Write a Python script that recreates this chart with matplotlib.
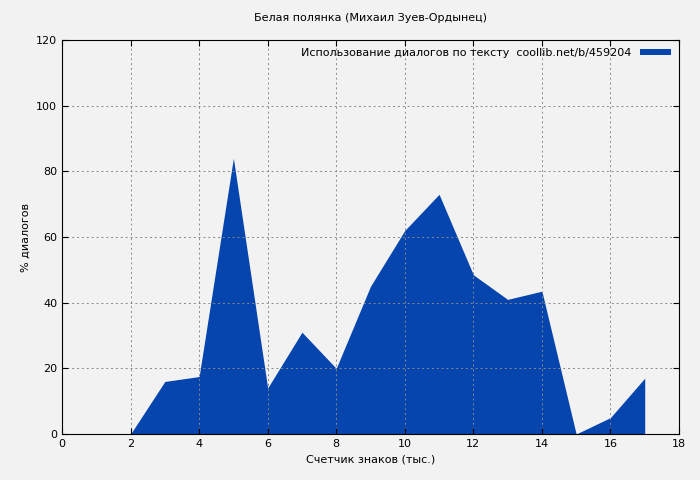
import matplotlib
matplotlib.use("Agg")
import matplotlib.pyplot as plt

x_vals = [2, 3, 4, 5, 6, 7, 8, 9, 10, 11, 12, 13, 14, 15, 16, 17]
y_vals = [0, 16, 17.5, 84, 14, 31, 20, 45, 62, 73, 48.5, 41, 43.5, 0, 5, 17]

plt.rcParams['font.family'] = ['DejaVu Sans']
plt.rcParams['font.size'] = 8

fig = plt.figure(figsize=(7, 4.8), dpi=100, facecolor='#f2f2f2')
ax = fig.add_axes([62/700, 1-434/480, 617/700, 394/480], facecolor='#f2f2f2')

ax.fill_between(x_vals, y_vals, 0, color='#0645ad', linewidth=0,
                label='Использование диалогов по тексту  coollib.net/b/459204')

ax.set_xlim(0, 18)
ax.set_ylim(0, 120)
ax.set_xticks(range(0, 19, 2))
ax.set_yticks(range(0, 121, 20))
ax.grid(True, color='#888888', linestyle=(0, (2, 3)), linewidth=0.7)
ax.tick_params(direction='in', length=4, top=True, right=True)
ax.set_title('Белая полянка (Михаил Зуев-Ордынец)', fontsize=8, pad=14)
ax.set_xlabel('Счетчик знаков (тыс.)')
ax.set_ylabel('% диалогов')
ax.legend(loc='upper right', frameon=False, handlelength=2.8, handleheight=0.5,
          borderaxespad=0.3, markerfirst=False)

fig.savefig('out.png', dpi=100, facecolor=fig.get_facecolor())
